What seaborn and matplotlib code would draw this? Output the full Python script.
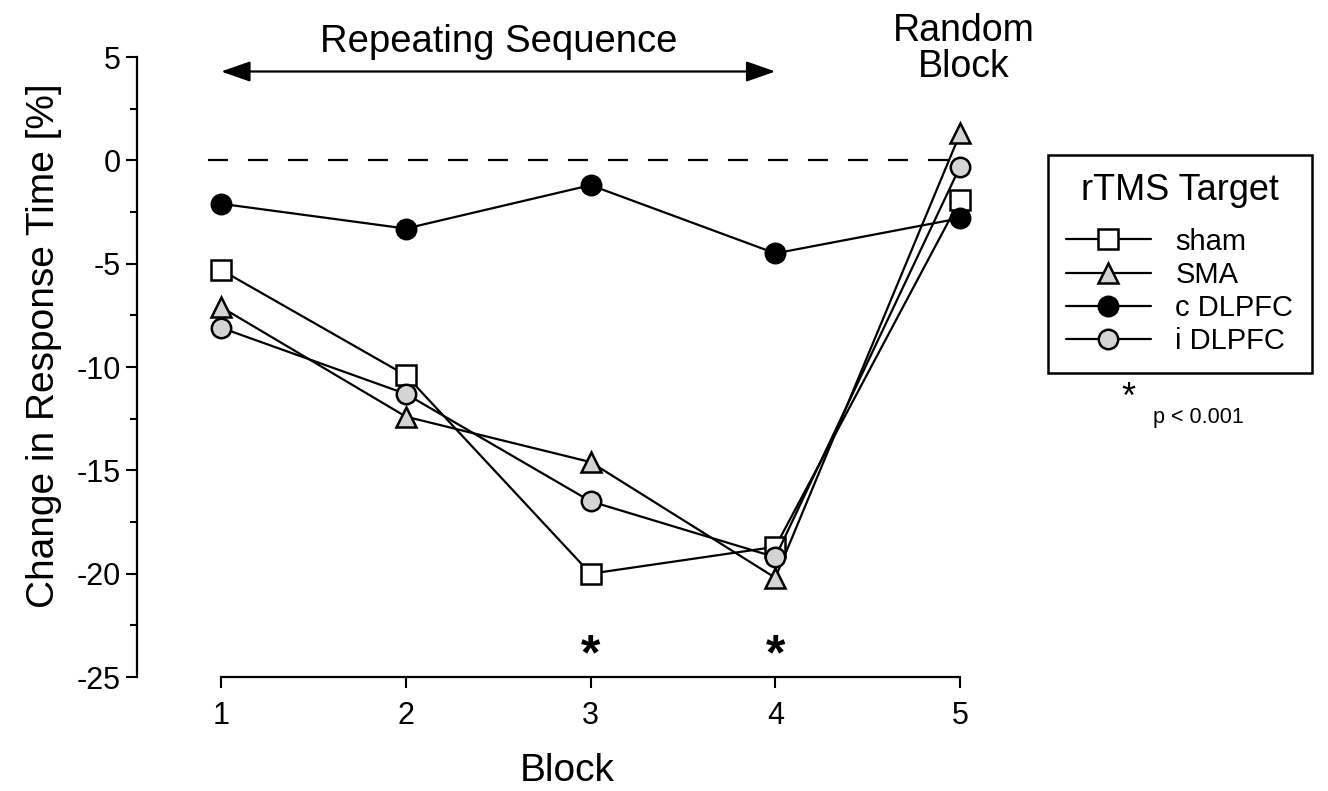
import matplotlib
matplotlib.use('Agg')
import matplotlib.pyplot as plt
from matplotlib.ticker import MultipleLocator
import seaborn as sns

# values (% change in response time per block)
blocks = [1, 2, 3, 4, 5]
sham = [-5.3, -10.4, -20.0, -18.7, -1.9]
sma = [-7.1, -12.4, -14.6, -20.2, 1.3]
c_dlpfc = [-2.1, -3.3, -1.2, -4.5, -2.8]
i_dlpfc = [-8.1, -11.3, -16.5, -19.2, -0.3]
series_names = ['sham', 'SMA', 'c DLPFC', 'i DLPFC']
signif_blocks = [3, 4]

sns.set_style('ticks')
plt.rcParams['font.family'] = ['Liberation Sans', 'DejaVu Sans']
plt.rcParams['axes.unicode_minus'] = False
for key in ['text.color', 'axes.labelcolor', 'xtick.color', 'ytick.color', 'axes.edgecolor']:
    plt.rcParams[key] = 'black'

fig = plt.figure(figsize=(13.28, 7.91), dpi=100)
ax = fig.add_axes([0.1032, 0.1441, 0.6476, 0.7838])

grey = '#d4d4d4'
styles = [
    (sham, 's', 'white'),
    (sma, '^', grey),
    (c_dlpfc, 'o', 'black'),
    (i_dlpfc, 'o', grey),
]
for (vals, mk, fc), name in zip(styles, series_names):
    sns.lineplot(x=blocks, y=vals, ax=ax, color='black', linewidth=1.6,
                 marker=mk, markersize=14, markerfacecolor=fc,
                 markeredgecolor='black', markeredgewidth=1.8, label=name)

# zero reference line
ax.plot([0.93, 5.03], [0, 0], color='black', linewidth=1.6, dashes=(9, 9))

ax.set_xlim(0.545, 5.2)
ax.set_ylim(-25, 5)
ax.set_xticks(blocks)
ax.yaxis.set_major_locator(MultipleLocator(5))
ax.yaxis.set_minor_locator(MultipleLocator(2.5))
ax.tick_params(axis='both', which='major', labelsize=22, length=8, width=1.5, color='black')
ax.tick_params(axis='y', which='minor', length=5, width=1.5, color='black')
ax.tick_params(axis='y', which='major', pad=3.5)
ax.tick_params(axis='x', pad=9)

sns.despine(ax=ax)
ax.spines['bottom'].set_bounds(1, 5)
for side in ['left', 'bottom']:
    ax.spines[side].set_linewidth(1.6)

ax.set_xlabel('Block', fontsize=28, labelpad=16)
ax.set_ylabel('Change in Response Time [%]', fontsize=28)
ax.yaxis.set_label_coords(-0.087, 0.535)

# repeating-sequence arrow and labels
ax.annotate('', xy=(1, 4.3), xytext=(4, 4.3), xycoords='data', annotation_clip=False,
            arrowprops=dict(arrowstyle='<|-|>,head_length=1.0,head_width=0.35',
                            mutation_scale=18, color='black', lw=1.6,
                            shrinkA=0, shrinkB=0))
ax.text(2.5, 5.75, 'Repeating Sequence', fontsize=27.5, ha='center', va='center', clip_on=False)
ax.text(5.02, 5.4, 'Random\nBlock', fontsize=27, ha='center', va='center',
        linespacing=1.0, clip_on=False)

for b in signif_blocks:
    ax.text(b, -24.0, '*', fontsize=36, fontweight='bold', ha='center', va='center')

leg = ax.legend(title='rTMS Target', loc='upper left',
                bbox_to_anchor=(1048 / 1328, 1 - 155 / 791), bbox_transform=fig.transFigure,
                borderaxespad=0, fontsize=21, title_fontsize=26, frameon=True,
                fancybox=False, edgecolor='black', framealpha=1,
                handlelength=2.9, handletextpad=0.85, labelspacing=0.18,
                borderpad=0.62)
leg.get_frame().set_linewidth(1.8)
leg._legend_box.sep = 14

fig.text(1128 / 1328, 1 - 398 / 791, '*', fontsize=26, ha='center', va='center')
fig.text(1153 / 1328, 1 - 417 / 791, 'p < 0.001', fontsize=15.5, ha='left', va='center')

fig.savefig('out.png', dpi=100)
